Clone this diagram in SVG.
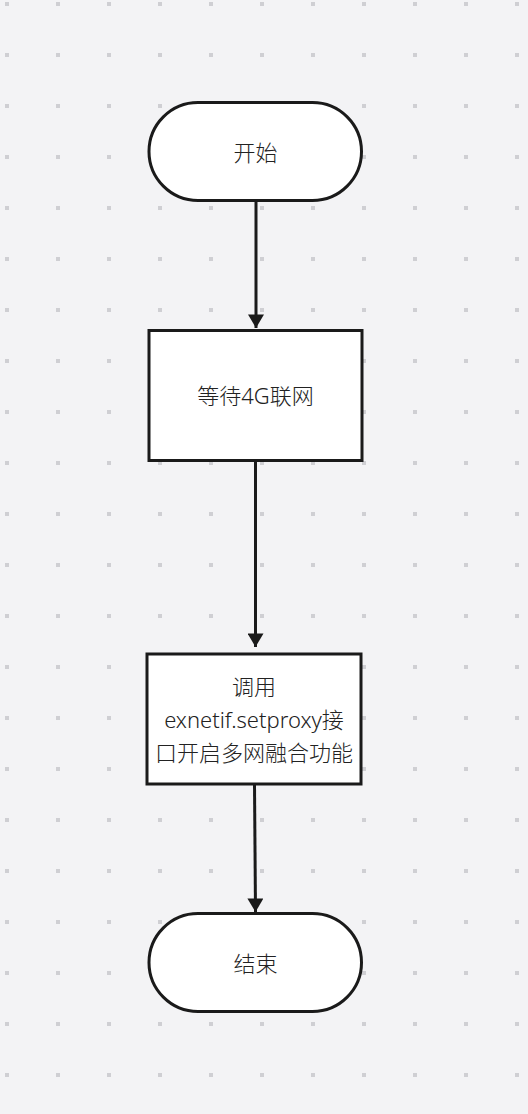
<svg xmlns="http://www.w3.org/2000/svg" width="528" height="1114" viewBox="0 0 528 1114">
<style>
.node{fill:#ffffff;stroke:#1a1a1a;stroke-width:3}
.lbl{font-family:"Noto Sans","Noto Sans CJK SC",sans-serif;font-size:22px;font-weight:300;fill:#222;text-anchor:middle;dominant-baseline:central}
.edge{fill:none;stroke:#1a1a1a;stroke-width:3}
</style>
<defs>
<pattern id="dots" x="0" y="0" width="51" height="51" patternUnits="userSpaceOnUse">
<rect x="5" y="2" width="4" height="4" fill="#cfcfd3"/>
</pattern>
<marker id="arr" markerWidth="19" markerHeight="16" refX="16" refY="9.5" orient="auto" markerUnits="userSpaceOnUse" viewBox="0 0 16 19">
<path d="M0,0 L16,9.5 L0,19 Z" fill="#1a1a1a"/>
</marker>
</defs>
<rect width="528" height="1114" fill="#f3f3f5"/>
<rect width="528" height="1114" fill="url(#dots)"/>
<g id="connectors">
<line class="edge" x1="256" y1="201" x2="256" y2="328" marker-end="url(#arr)"/>
<line class="edge" x1="255.5" y1="461" x2="255.5" y2="647" marker-end="url(#arr)"/>
<line class="edge" x1="254.5" y1="785" x2="255.5" y2="912" marker-end="url(#arr)"/>
</g>
<g id="start">
<rect class="node" x="149" y="102.5" width="212.5" height="98" rx="49" ry="49"/>
<text class="lbl" x="255.5" y="152">开始</text>
</g>
<g id="wait4g">
<rect class="node" x="149" y="330.5" width="213" height="130"/>
<text class="lbl" x="255.5" y="395">等待4G联网</text>
</g>
<g id="setproxy">
<rect class="node" x="147" y="654" width="214" height="130"/>
<text class="lbl" x="254" y="686">调用</text>
<text class="lbl" x="254" y="719">exnetif.setproxy接</text>
<text class="lbl" x="254" y="752">口开启多网融合功能</text>
</g>
<g id="end">
<rect class="node" x="149" y="913.5" width="212.5" height="98" rx="49" ry="49"/>
<text class="lbl" x="255.5" y="963">结束</text>
</g>
</svg>
